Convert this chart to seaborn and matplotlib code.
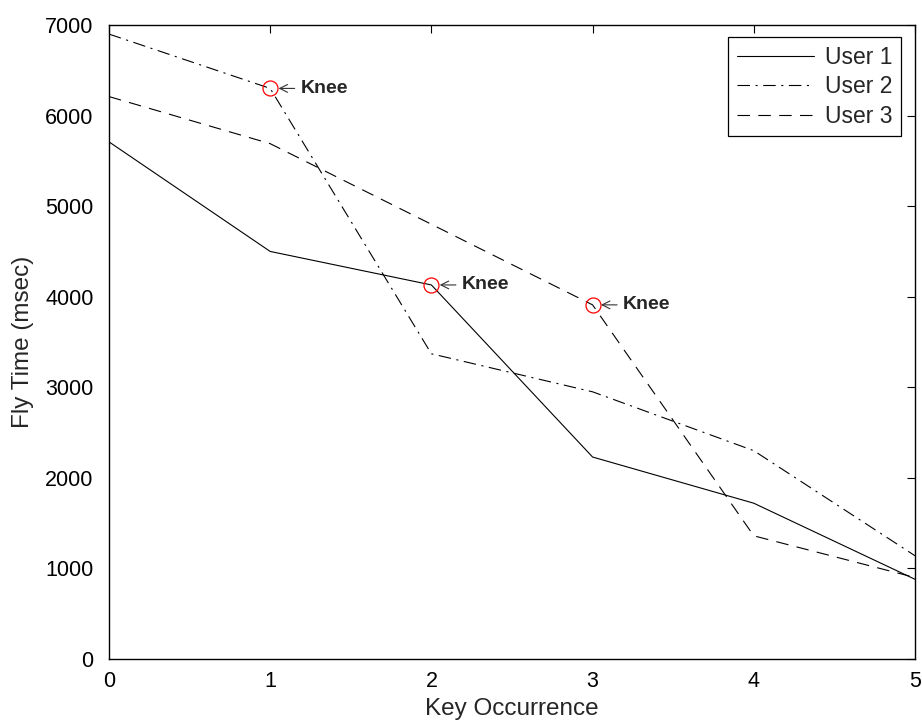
import matplotlib
matplotlib.use("Agg")
import matplotlib.pyplot as plt
import seaborn as sns
import pandas as pd

# Fly time per key occurrence for three users
key_occurrence = [0, 1, 2, 3, 4, 5]
user1 = [5710, 4500, 4130, 2230, 1720, 880]
user2 = [6900, 6300, 3370, 2950, 2300, 1140]
user3 = [6210, 5690, 4800, 3910, 1360, 900]
users = ["User 1", "User 2", "User 3"]

# Knee points: (key occurrence, fly time)
knee_x = [1, 2, 3]
knee_y = [6300, 4130, 3910]

df = pd.DataFrame({
    "Key Occurrence": key_occurrence * 3,
    "Fly Time (msec)": user1 + user2 + user3,
    "User": [u for u in users for _ in key_occurrence],
})

sns.set_style("white")
plt.rcParams["font.family"] = ["Liberation Sans", "DejaVu Sans"]
plt.rcParams["lines.scale_dashes"] = False

fig = plt.figure(figsize=(9.22, 7.21), dpi=100)
ax = fig.add_axes([0.1182, 0.0860, 0.8742, 0.8793])

dash_map = {"User 1": "", "User 2": (9, 4, 1.5, 4), "User 3": (9, 6)}
sns.lineplot(data=df, x="Key Occurrence", y="Fly Time (msec)", style="User",
             dashes=dash_map, color="black", linewidth=0.8, ax=ax, legend=True)

# Mark the knees and label them
ax.plot(knee_x, knee_y, linestyle="none", marker="o", markersize=10.8,
        markerfacecolor="none", markeredgecolor="red", markeredgewidth=0.9)
for kx, ky in zip(knee_x, knee_y):
    ax.annotate("Knee", xy=(kx, ky), xycoords="data",
                xytext=(22, 0), textcoords="offset points",
                fontsize=14, fontweight="bold", va="center", ha="left",
                arrowprops=dict(arrowstyle="->", color="#333333", lw=0.8,
                                shrinkA=2, shrinkB=6))

ax.set_xlim(0, 5)
ax.set_ylim(0, 7000)
ax.set_xticks(range(0, 6))
ax.set_yticks(range(0, 7001, 1000))
ax.tick_params(direction="in", top=True, right=True, length=6, width=0.8,
               labelsize=15.5, colors="black")
ax.tick_params(axis="x", pad=9)
ax.tick_params(axis="y", pad=11)
for s in ax.spines.values():
    s.set_visible(True)
    s.set_color("black")
    s.set_linewidth(1.0)

ax.set_xlabel("Key Occurrence", fontsize=17.5, labelpad=4)
ax.set_ylabel("Fly Time (msec)", fontsize=17.5, labelpad=8)

leg = ax.legend(loc="upper right", bbox_to_anchor=(0.9826, 0.981),
                borderaxespad=0, fontsize=16.5, frameon=True, fancybox=False,
                framealpha=1, edgecolor="black", handlelength=3.4,
                handletextpad=0.45, labelspacing=0.28, borderpad=0.38)
leg.get_frame().set_linewidth(0.9)
for line in leg.get_lines():
    line.set_linewidth(0.8)

fig.savefig("out.png", dpi=100)
